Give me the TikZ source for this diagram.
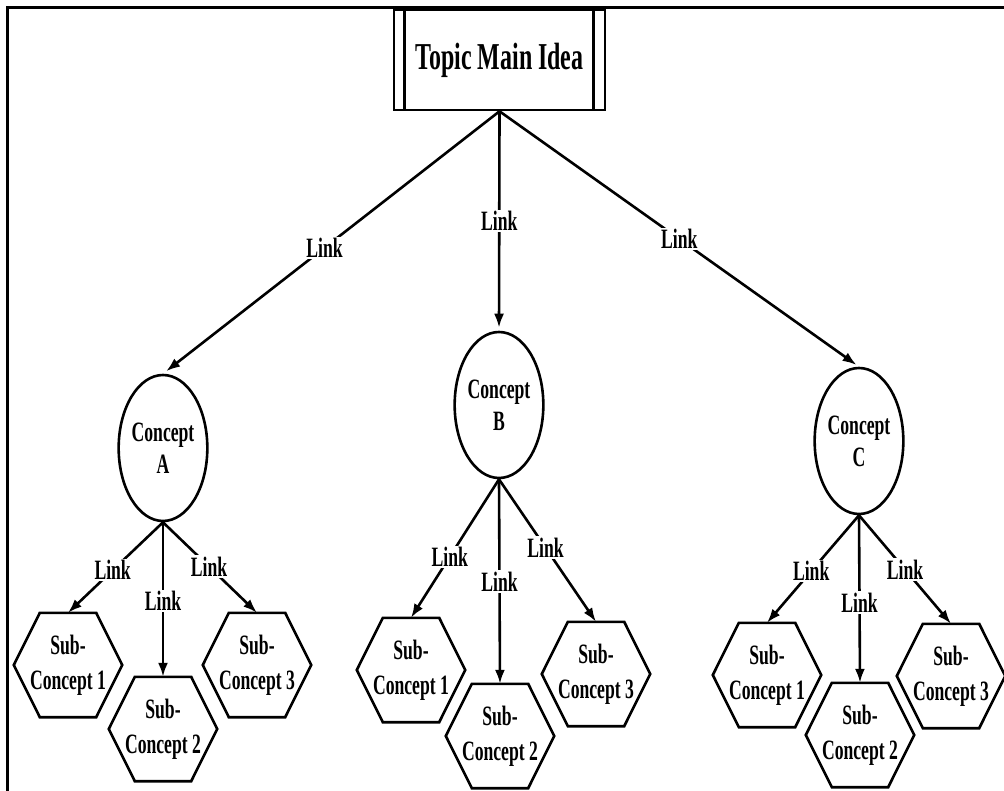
\documentclass[tikz,border=0pt]{standalone}
\usepackage{fontspec}
\setmainfont{Liberation Serif}[FakeStretch=0.63]
\usetikzlibrary{shapes.geometric,arrows.meta}
\tikzset{
 frame/.style={line width=3pt},
 topbox/.style={draw, line width=2.6pt, minimum width=211pt, minimum height=100pt, inner sep=0pt, font=\bfseries\fontsize{38}{40}\selectfont},
 innerline/.style={line width=2.6pt},
 concept/.style={draw, ellipse, line width=2.6pt, minimum width=88pt, minimum height=146pt, inner sep=0pt, align=center, font=\bfseries\fontsize{28}{32}\selectfont},
 hexa/.style={minimum width=108pt, minimum height=104pt, inner sep=0pt, align=center, font=\bfseries\fontsize{28}{35}\selectfont},
 hexline/.style={draw, line width=2.6pt, line join=miter},
 link/.style={line width=2.6pt, -{Latex[length=14pt,width=10pt]}},
 lbl/.style={fill=white, inner sep=1.5pt, font=\bfseries\fontsize{28}{30}\selectfont},
}
\newcommand\hexdraw[1]{\draw[hexline] (#1.west) -- ([xshift=26pt]#1.north west) -- ([xshift=-26pt]#1.north east) -- (#1.east) -- ([xshift=-26pt]#1.south east) -- ([xshift=26pt]#1.south west) -- cycle;}
\begin{document}
\begin{tikzpicture}[x=1pt,y=-1pt]
\useasboundingbox (0,0) rectangle (1004,791);
% frame
\coordinate (fbl) at (7,795);
\coordinate (ftl) at (7,8);
\coordinate (ftr) at (1008,8);
\draw[frame] (fbl) -- (ftl) -- (ftr);
% top
\node[topbox] (top) at (499.5,60) {Topic Main Idea};
\draw[innerline] ([xshift=12pt]top.north west) -- ([xshift=12pt]top.south west);
\draw[innerline] ([xshift=-13pt]top.north east) -- ([xshift=-13pt]top.south east);
% concepts
\node[concept] (A) at (163,448) {Concept\\A};
\node[concept] (B) at (499,405) {Concept\\B};
\node[concept] (C) at (859,441) {Concept\\C};
% sub concepts
\node[hexa] (a1) at (68,665) {Sub-\\Concept 1};
\node[hexa] (a2) at (163,729) {Sub-\\Concept 2};
\node[hexa] (a3) at (257,665) {Sub-\\Concept 3};
\node[hexa] (b1) at (411,670) {Sub-\\Concept 1};
\node[hexa] (b2) at (500,736) {Sub-\\Concept 2};
\node[hexa] (b3) at (596,674) {Sub-\\Concept 3};
\node[hexa] (c1) at (767,675) {Sub-\\Concept 1};
\node[hexa] (c2) at (860,735) {Sub-\\Concept 2};
\node[hexa] (c3) at (951,676) {Sub-\\Concept 3};
\hexdraw{a1}\hexdraw{a2}\hexdraw{a3}
\hexdraw{b1}\hexdraw{b2}\hexdraw{b3}
\hexdraw{c1}\hexdraw{c2}\hexdraw{c3}
% main links
\draw[link, shorten >=4pt] (top.south) -- node[lbl, pos=0.52] {Link} (A.north);
\draw[link, shorten >=3pt] (top.south) -- node[lbl, pos=0.5] {Link} (B.north);
\draw[link, shorten >=3pt] (top.south) -- node[lbl, pos=0.5] {Link} (C.north);
% group links
\draw[link] (A.south) -- node[lbl, pos=0.53] {Link} (a1.north);
\draw[link] (A.south) -- node[lbl, pos=0.51] {Link} (a2.north);
\draw[link] (A.south) -- node[lbl, pos=0.49] {Link} (a3.north);
\draw[link] (B.south) -- node[lbl, pos=0.56] {Link} (b1.north);
\draw[link] (B.south) -- node[lbl, pos=0.5] {Link} (b2.north);
\draw[link] (B.south) -- node[lbl, pos=0.48] {Link} (b3.north);
\draw[link] (C.south) -- node[lbl, pos=0.52] {Link} (c1.north);
\draw[link] (C.south) -- node[lbl, pos=0.52] {Link} (c2.north);
\draw[link] (C.south) -- node[lbl, pos=0.5] {Link} (c3.north);
\end{tikzpicture}
\end{document}
